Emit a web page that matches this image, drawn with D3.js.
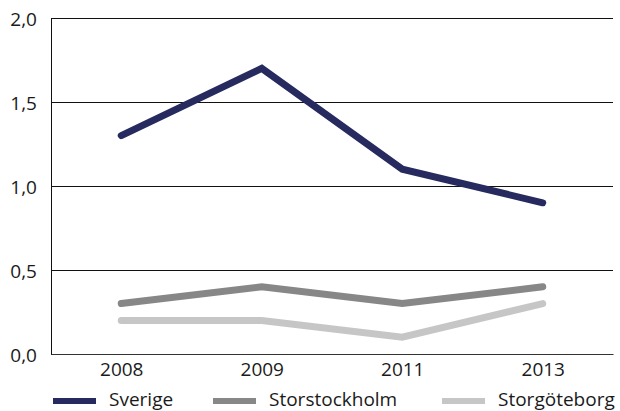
<!DOCTYPE html>
<html>
<head>
<meta charset="utf-8">
<script src="https://cdn.jsdelivr.net/npm/d3@7"></script>
<style>
  body { margin: 0; background: #fff; }
  svg text { font-family: 'Open Sans', sans-serif; font-weight: 400; fill: #1a1a1a; }
</style>
</head>
<body>
<div id="chart-area"></div>
<script>
'use strict';
const svg_width = 620;
const svg_height = 411;
const margin = {top: 18, right: 7, bottom: 57, left: 51};

const years = ['2008', '2009', '2011', '2013'];
const series_names = ['Sverige', 'Storstockholm', 'Storgöteborg'];
const sverige = [1.3, 1.7, 1.1, 0.9];
const storstockholm = [0.3, 0.4, 0.3, 0.4];
const storgoteborg = [0.2, 0.2, 0.1, 0.3];
const y_ticks = [0, 0.5, 1.0, 1.5, 2.0];
const colors = ['#262a5e', '#878787', '#c6c6c6'];

const series = [sverige, storstockholm, storgoteborg].map((values, i) => ({
  name: series_names[i],
  color: colors[i],
  values: values
}));

const svg = d3.select('#chart-area')
  .append('svg')
    .attr('width', svg_width)
    .attr('height', svg_height);

const x_scale = d3.scalePoint()
  .domain(years)
  .range([margin.left, svg_width - margin.right])
  .padding(0.5);

const y_scale = d3.scaleLinear()
  .domain([0, 2])
  .range([svg_height - margin.bottom, margin.top]);

const fmt = d => d3.format('.1f')(d).replace('.', ',');

// gridlines + y labels
const y_axis = d3.axisLeft(y_scale)
  .tickValues(y_ticks)
  .tickSize(-(svg_width - margin.right - margin.left))
  .tickPadding(14)
  .tickFormat(fmt);

svg.append('g')
  .attr('transform', `translate(${margin.left},0)`)
  .call(y_axis)
  .call(g => g.select('.domain').attr('stroke', '#111'))
  .call(g => g.selectAll('.tick line').attr('stroke', '#111'))
  .call(g => g.selectAll('.tick text')
    .attr('font-size', 19)
    .attr('dy', '0.4em'));

// x labels
const x_axis = d3.axisBottom(x_scale).tickSize(0).tickPadding(9);
svg.append('g')
  .attr('transform', `translate(0,${svg_height - margin.bottom})`)
  .call(x_axis)
  .call(g => g.select('.domain').attr('stroke', '#333').attr('stroke-width', 1.2))
  .call(g => g.selectAll('.tick text').attr('font-size', 19));

const line = d3.line()
  .x((d, i) => x_scale(years[i]))
  .y(d => y_scale(d));

svg.selectAll('path.series').data(series.slice().reverse()).enter()
  .append('path')
    .attr('class', 'series')
    .attr('d', d => line(d.values))
    .attr('fill', 'none')
    .attr('stroke', d => d.color)
    .attr('stroke-width', 7)
    .attr('stroke-linecap', 'round')
    .attr('stroke-linejoin', 'miter');

// legend
const legend_x = [53, 213, 442];
const legend = svg.selectAll('g.legend').data(series).enter()
  .append('g')
    .attr('class', 'legend')
    .attr('transform', (d, i) => `translate(${legend_x[i]},398)`);

legend.append('rect')
  .attr('width', 43)
  .attr('height', 6)
  .attr('fill', d => d.color);

legend.append('text')
  .attr('x', 56)
  .attr('y', 8)
  .attr('font-size', 19)
  .text(d => d.name);
</script>
</body>
</html>
